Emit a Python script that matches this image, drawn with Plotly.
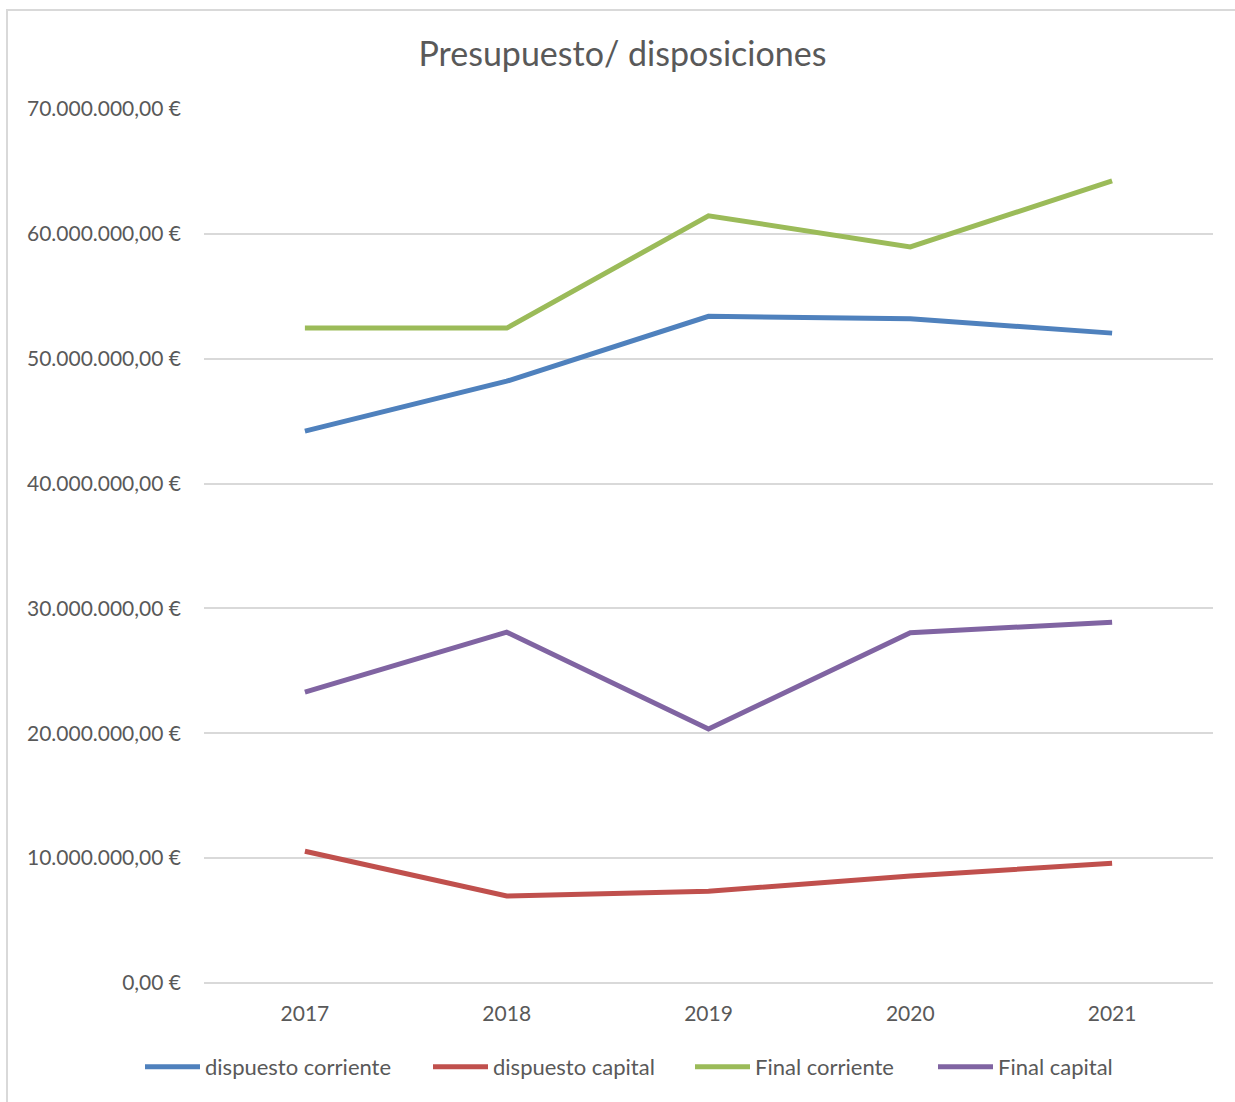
import plotly.graph_objects as go

years = ["2017", "2018", "2019", "2020", "2021"]
dispuesto_corriente = [44.2e6, 48.2e6, 53.4e6, 53.2e6, 52.05e6]
dispuesto_capital = [10.55e6, 6.97e6, 7.35e6, 8.57e6, 9.6e6]
final_corriente = [52.45e6, 52.45e6, 61.45e6, 58.95e6, 64.25e6]
final_capital = [23.3e6, 28.1e6, 20.35e6, 28.05e6, 28.9e6]

tick_vals = [0, 10e6, 20e6, 30e6, 40e6, 50e6, 60e6, 70e6]
tick_text = ["0,00 €", "10.000.000,00 €", "20.000.000,00 €", "30.000.000,00 €",
             "40.000.000,00 €", "50.000.000,00 €", "60.000.000,00 €", "70.000.000,00 €"]

series = [
    ("dispuesto corriente", dispuesto_corriente, "#4F81BD"),
    ("dispuesto capital", dispuesto_capital, "#C0504D"),
    ("Final corriente", final_corriente, "#9BBB59"),
    ("Final capital", final_capital, "#8064A2"),
]
legend_starts_px = [145, 433, 695, 938]

FONT = "Lato"
TXT = "#595959"
L, R, T, B = 204, 22, 109, 119
PW = 1235 - L - R

fig = go.Figure()
legend_layouts = {}
for i, (name, vals, col) in enumerate(series):
    lg = "legend" if i == 0 else f"legend{i + 1}"
    fig.add_trace(go.Scatter(x=years, y=vals, name=name, mode="lines",
                             line=dict(color=col, width=5), legend=lg))
    legend_layouts[lg] = dict(orientation="h", x=(legend_starts_px[i] - 5 - L) / PW,
                              xanchor="left", y=-0.096, yanchor="middle",
                              font=dict(size=22, color=TXT, family=FONT), itemwidth=55,
                              bgcolor="rgba(0,0,0,0)")

fig.update_layout(
    width=1235, height=1102,
    margin=dict(l=L, r=R, t=T, b=B),
    paper_bgcolor="white", plot_bgcolor="white",
    font=dict(family=FONT, color=TXT, size=21),
    title=dict(text="Presupuesto/ disposiciones", x=0.504, xanchor="center",
               y=0.951, yanchor="middle", font=dict(size=34, color=TXT, family=FONT)),
    showlegend=True,
    shapes=[dict(type="rect", xref="paper", yref="paper",
                 x0=(7 - L) / PW, x1=(1245 - L) / PW,
                 y0=(983 - 1115) / 874, y1=(983 - 10) / 874,
                 line=dict(color="#D9D9D9", width=2), fillcolor="rgba(0,0,0,0)", layer="below")],
    **legend_layouts,
)
fig.update_xaxes(type="category", range=[-0.5, 4.5], showgrid=False, showline=False,
                 ticks="", ticklabelstandoff=16, tickfont=dict(size=21, color=TXT))
fig.update_yaxes(range=[0, 70e6], tickvals=tick_vals, ticktext=tick_text,
                 showgrid=True, gridcolor="#D9D9D9", gridwidth=1.5, zeroline=True,
                 zerolinecolor="#D9D9D9", zerolinewidth=1.5, showline=False, ticks="",
                 ticklabelstandoff=22, tickfont=dict(size=21, color=TXT))

fig.write_html("out.html", config={"displayModeBar": False},
               post_script="document.body.style.margin='0';")
